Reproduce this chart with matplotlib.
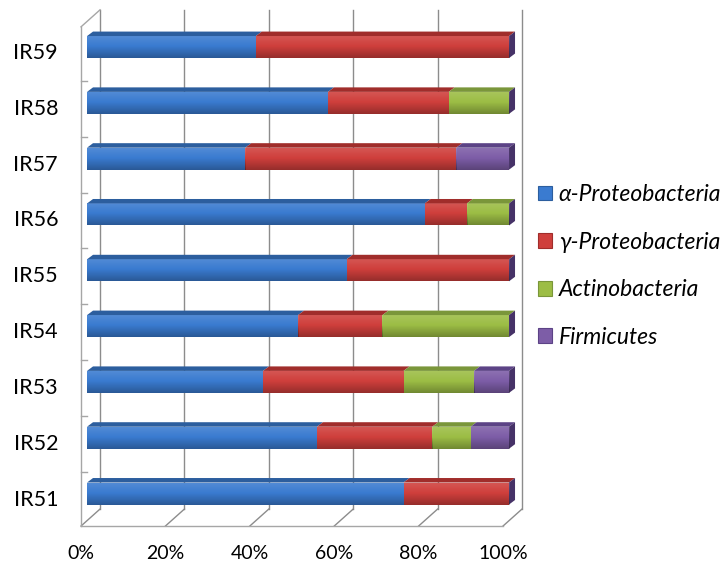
import numpy as np
import matplotlib.pyplot as plt
from matplotlib.patches import Patch

# Share of isolates per phylum at each sampling site
sites = ['IR51', 'IR52', 'IR53', 'IR54', 'IR55', 'IR56', 'IR57', 'IR58', 'IR59']
alpha_pb = [75.0, 54.5, 41.7, 50.0, 61.5, 80.0, 37.5, 57.1, 40.0]
gamma_pb = [25.0, 27.3, 33.3, 20.0, 38.5, 10.0, 50.0, 28.6, 60.0]
actino = [0.0, 9.1, 16.7, 30.0, 0.0, 10.0, 0.0, 14.3, 0.0]
firmic = [0.0, 9.1, 8.3, 0.0, 0.0, 0.0, 12.5, 0.0, 0.0]

groups = ['α-Proteobacteria', 'γ-Proteobacteria', 'Actinobacteria', 'Firmicutes']
front_cols = ['#3a7bd0', '#cf3f3c', '#9cbd45', '#7d5da7']
top_cols = ['#2c5e9e', '#a02d2b', '#7a963a', '#5c4386']
side_col = '#463267'
xticks = [0, 20, 40, 60, 80, 100]

font = ['Lato', 'DejaVu Sans']
plt.rcParams['font.family'] = font

W, H = 727, 564
fig = plt.figure(figsize=(W / 100, H / 100), dpi=100)
ax = fig.add_axes([80.7 / W, (H - 527) / H, 443.1 / W, 519 / H])
xlim, ylim = (-1.5, 103.5), (-0.6, 8.7)

# pixel -> data scale, used for the fake depth of the 3-D box
sx = 443.1 / (xlim[1] - xlim[0])
sy = 519 / (ylim[1] - ylim[0])

def shift(x, y, dxp, dyp):
    return x + dxp / sx, y + dyp / sy

FRONT = (-6, -6)   # front plane relative to bar faces
BACK = (13, 11)    # back wall relative to bar faces
BAR_D = (6, 4.5)   # depth of a bar
y_floor, y_top = -0.475, 8.47

def pline(p0, off0, p1, off1, **kw):
    a = shift(p0[0], p0[1], *off0)
    b = shift(p1[0], p1[1], *off1)
    ax.plot([a[0], b[0]], [a[1], b[1]], clip_on=False, **kw)

wall = dict(color='#a6a6a6', lw=1.0, zorder=1)
grid = dict(color='#8c8c8c', lw=1.0, zorder=1)

# back wall grid and floor diagonals
for p in xticks:
    pline((p, y_floor), BACK, (p, y_top), BACK, **grid)
    pline((p, y_floor), FRONT, (p, y_floor), BACK, **grid)
# floor front edge, left wall
pline((0, y_floor), FRONT, (100, y_floor), FRONT, **wall)
pline((0, y_floor), FRONT, (0, y_top), FRONT, **wall)
pline((0, y_top), FRONT, (0, y_top), BACK, **wall)
for b in np.arange(len(sites) - 1) + 0.5:
    pline((0, b), FRONT, (0, b), (FRONT[0] + 6, FRONT[1]), **wall)

# shading overlay for the bar fronts: lighter at top, darker at bottom
t = np.linspace(0, 1, 64)[:, None]
shade = np.zeros((64, 1, 4))
light = np.clip(1 - t / 0.45, 0, 1) * 0.12
dark = np.clip((t - 0.45) / 0.55, 0, 1) * 0.28
shade[..., :3] = np.where(light > 0, 1.0, 0.0)[..., None]
shade[..., 3] = light + dark

y = np.arange(len(sites))
h = 0.394
series = [alpha_pb, gamma_pb, actino, firmic]
left = np.zeros(len(sites))
for k, vals in enumerate(series):
    vals = np.array(vals)
    bars = ax.barh(y, vals, left=left, height=h, color=front_cols[k],
                   linewidth=0, zorder=3)
    for r in bars:
        x0, y0, w, hh = r.get_x(), r.get_y(), r.get_width(), r.get_height()
        if w > 0:
            im = ax.imshow(shade, extent=(x0, x0 + w, y0, y0 + hh),
                           aspect='auto', zorder=3.5, interpolation='bilinear')
            im.set_clip_path(r)
            a = shift(x0, y0 + hh, *BAR_D)
            b = shift(x0 + w, y0 + hh, *BAR_D)
            ax.fill([x0, x0 + w, b[0], a[0]], [y0 + hh, y0 + hh, b[1], a[1]],
                    color=top_cols[k], lw=0, zorder=3)
    left += vals

# right-hand end caps
for i in y:
    x1, y0, y1 = left[i], i - h / 2, i + h / 2
    a = shift(x1, y0, *BAR_D)
    b = shift(x1, y1, *BAR_D)
    ax.fill([x1, x1, b[0], a[0]], [y0, y1, b[1], a[1]],
            color=side_col, lw=0, zorder=3)

# category and percent labels sit on the front plane
for i, s in enumerate(sites):
    tx, ty = shift(0, i, FRONT[0] - 23, FRONT[1])
    ax.text(tx, ty, s, ha='right', va='center', fontsize=15.5)
for p in xticks:
    tx, ty = shift(p, y_floor, FRONT[0], FRONT[1] - 27.7)
    ax.text(tx, ty, f'{p}%', ha='center', va='center', fontsize=14)

ax.set_xlim(*xlim)
ax.set_ylim(*ylim)
ax.axis('off')

handles = [Patch(facecolor=c, edgecolor=e, lw=0.8) for c, e in zip(front_cols, top_cols)]
fig.legend(handles, groups, loc='center left', bbox_to_anchor=(538 / W, 1 - 266 / H),
           frameon=False, prop=dict(family=font, style='italic', size=16.5),
           handlelength=0.61, handleheight=0.61, handletextpad=0.3,
           labelspacing=1.16, borderpad=0, borderaxespad=0)

fig.savefig('out.png', dpi=100)
